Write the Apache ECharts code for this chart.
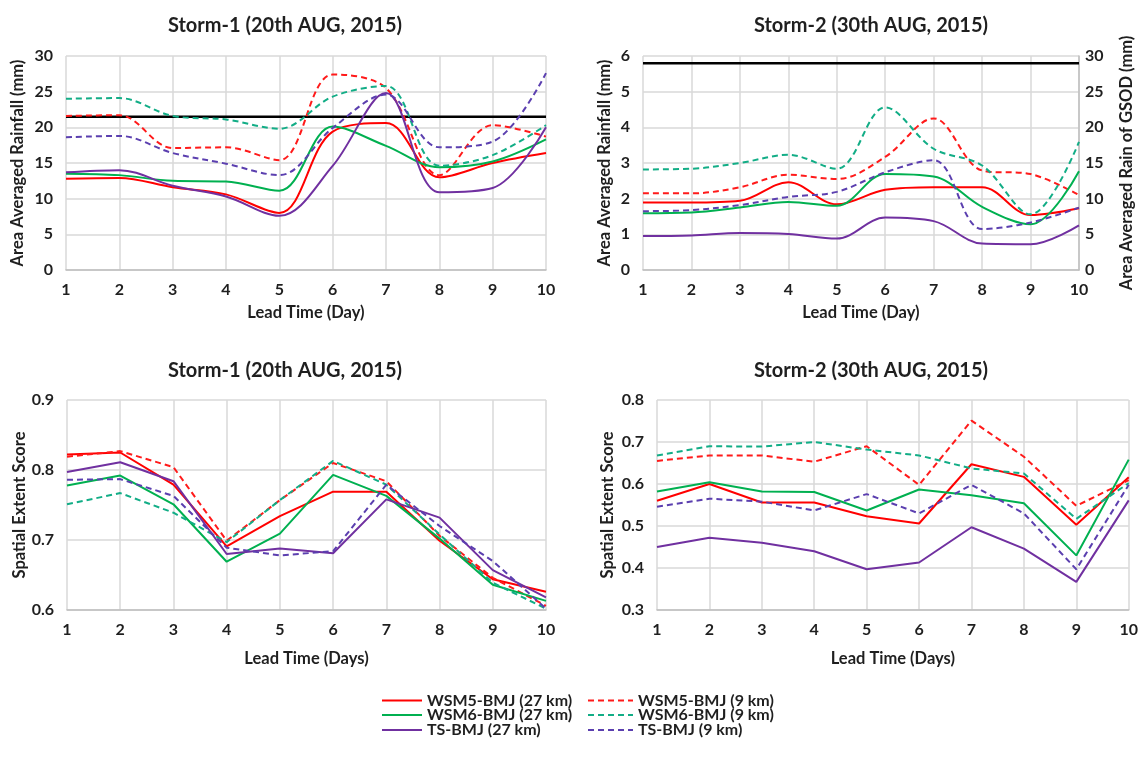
<!DOCTYPE html>
<html>
<head>
<meta charset="utf-8">
<script src="https://cdn.jsdelivr.net/npm/echarts@6/dist/echarts.min.js"></script>
<style>
html,body{margin:0;padding:0;background:#fff;}
#chart{width:1141px;height:757px;}
</style>
</head>
<body>
<div id="chart"></div>
<script>
// ---- Data ----
const days = [1, 2, 3, 4, 5, 6, 7, 8, 9, 10];
const seriesNames = ['WSM5-BMJ (27 km)', 'WSM5-BMJ (9 km)', 'WSM6-BMJ (27 km)', 'WSM6-BMJ (9 km)', 'TS-BMJ (27 km)', 'TS-BMJ (9 km)'];

// Storm-1 area averaged rainfall (mm)
const s1RainWSM5_27 = [12.8, 12.9, 11.6, 10.6, 8.0, 19.4, 20.6, 13.0, 15.0, 16.4];
const s1RainWSM5_9  = [21.6, 21.7, 17.1, 17.2, 15.4, 27.4, 25.5, 13.3, 20.3, 18.7];
const s1RainWSM6_27 = [13.5, 13.3, 12.5, 12.4, 11.1, 20.1, 17.4, 14.4, 15.2, 18.3];
const s1RainWSM6_9  = [24.0, 24.1, 21.6, 21.1, 19.8, 24.3, 25.8, 14.6, 16.1, 20.3];
const s1RainTS_27   = [13.7, 14.0, 11.8, 10.3, 7.6, 14.6, 24.8, 10.9, 11.5, 20.0];
const s1RainTS_9    = [18.6, 18.8, 16.4, 14.9, 13.3, 19.9, 24.6, 17.2, 18.0, 27.6];
const s1GSOD = [21.5, 21.5, 21.5, 21.5, 21.5, 21.5, 21.5, 21.5, 21.5, 21.5];

// Storm-2 area averaged rainfall (mm)
const s2RainWSM5_27 = [1.89, 1.89, 1.94, 2.46, 1.84, 2.25, 2.32, 2.32, 1.54, 1.73];
const s2RainWSM5_9  = [2.15, 2.15, 2.32, 2.67, 2.55, 3.17, 4.25, 2.79, 2.69, 2.10];
const s2RainWSM6_27 = [1.59, 1.61, 1.75, 1.91, 1.80, 2.69, 2.62, 1.77, 1.28, 2.77];
const s2RainWSM6_9  = [2.82, 2.84, 3.00, 3.23, 2.84, 4.56, 3.40, 2.93, 1.56, 3.59];
const s2RainTS_27   = [0.95, 0.97, 1.04, 1.01, 0.88, 1.47, 1.37, 0.74, 0.72, 1.25];
const s2RainTS_9    = [1.65, 1.68, 1.82, 2.05, 2.19, 2.74, 3.08, 1.15, 1.33, 1.75];
const s2GSOD = [29, 29, 29, 29, 29, 29, 29, 29, 29, 29]; // right axis

// Storm-1 spatial extent score
const s1SesWSM5_27 = [0.822, 0.825, 0.779, 0.691, 0.734, 0.769, 0.769, 0.699, 0.644, 0.626];
const s1SesWSM5_9  = [0.819, 0.827, 0.804, 0.699, 0.757, 0.810, 0.784, 0.706, 0.646, 0.606];
const s1SesWSM6_27 = [0.778, 0.792, 0.751, 0.669, 0.709, 0.793, 0.763, 0.702, 0.636, 0.613];
const s1SesWSM6_9  = [0.751, 0.767, 0.739, 0.697, 0.757, 0.813, 0.779, 0.708, 0.639, 0.602];
const s1SesTS_27   = [0.797, 0.811, 0.784, 0.680, 0.688, 0.681, 0.758, 0.732, 0.657, 0.618];
const s1SesTS_9    = [0.786, 0.787, 0.763, 0.689, 0.678, 0.684, 0.779, 0.720, 0.670, 0.602];

// Storm-2 spatial extent score
const s2SesWSM5_27 = [0.560, 0.600, 0.556, 0.556, 0.523, 0.506, 0.647, 0.617, 0.503, 0.616];
const s2SesWSM5_9  = [0.655, 0.668, 0.668, 0.653, 0.690, 0.598, 0.751, 0.665, 0.548, 0.609];
const s2SesWSM6_27 = [0.582, 0.604, 0.582, 0.581, 0.537, 0.587, 0.573, 0.554, 0.430, 0.658];
const s2SesWSM6_9  = [0.668, 0.690, 0.689, 0.700, 0.682, 0.668, 0.637, 0.625, 0.517, 0.602];
const s2SesTS_27   = [0.450, 0.472, 0.460, 0.440, 0.397, 0.413, 0.497, 0.446, 0.367, 0.561];
const s2SesTS_9    = [0.546, 0.565, 0.558, 0.537, 0.576, 0.530, 0.598, 0.530, 0.397, 0.598];

// ---- Styles ----
const FONT = 'Lato';
const TXT = '#1f1f1f';
const GRIDC = '#D9D9D9';
const styles = [
  {color: '#FF0000', type: 'solid'},
  {color: '#FF1A1A', type: [6, 4]},
  {color: '#00B050', type: 'solid'},
  {color: '#12AD86', type: [6, 4]},
  {color: '#7030A0', type: 'solid'},
  {color: '#5B3FAF', type: [6, 4]}
];

const groups = [
  {data: [s1RainWSM5_27, s1RainWSM5_9, s1RainWSM6_27, s1RainWSM6_9, s1RainTS_27, s1RainTS_9], x: 0, y: 0, smooth: true},
  {data: [s2RainWSM5_27, s2RainWSM5_9, s2RainWSM6_27, s2RainWSM6_9, s2RainTS_27, s2RainTS_9], x: 1, y: 1, smooth: true},
  {data: [s1SesWSM5_27, s1SesWSM5_9, s1SesWSM6_27, s1SesWSM6_9, s1SesTS_27, s1SesTS_9], x: 2, y: 3, smooth: false},
  {data: [s2SesWSM5_27, s2SesWSM5_9, s2SesWSM6_27, s2SesWSM6_9, s2SesTS_27, s2SesTS_9], x: 3, y: 4, smooth: false}
];

const pairs = arr => days.map((d, i) => [d, arr[i]]);

const series = [];
// GSOD reference lines
series.push({type: 'line', name: 'GSOD-1', data: pairs(s1GSOD), xAxisIndex: 0, yAxisIndex: 0, symbol: 'none',
  lineStyle: {color: '#000', width: 2.5}, silent: true, z: 1});
series.push({type: 'line', name: 'GSOD-2', data: pairs(s2GSOD), xAxisIndex: 1, yAxisIndex: 2, symbol: 'none',
  lineStyle: {color: '#000', width: 2.5}, silent: true, z: 1});
groups.forEach(g => {
  g.data.forEach((arr, k) => {
    series.push({
      type: 'line', name: seriesNames[k], data: pairs(arr),
      xAxisIndex: g.x, yAxisIndex: g.y, symbol: 'none',
      smooth: g.smooth ? 0.35 : false,
      itemStyle: {color: styles[k].color},
      lineStyle: {color: styles[k].color, width: 2, type: styles[k].type},
      emphasis: {disabled: true}, z: 2
    });
  });
});

const lbl = {fontFamily: FONT, fontWeight: 'bold', fontSize: 16, color: TXT};
const nameSty = {fontFamily: FONT, fontWeight: 'bold', fontSize: 16.5, color: TXT};

function xAxis(gi, name, gap) {
  return {type: 'value', gridIndex: gi, min: 1, max: 10, interval: 1,
    name: name, nameLocation: 'middle', nameGap: gap, nameTextStyle: nameSty,
    axisLine: {show: true, lineStyle: {color: '#BFBFBF', width: 1.5}},
    axisTick: {show: false},
    axisLabel: Object.assign({margin: 12}, lbl),
    splitLine: {show: true, lineStyle: {color: GRIDC, width: 1.5}}};
}
function yAxis(gi, min, max, interval, name, gap, pos, extra) {
  return Object.assign({type: 'value', gridIndex: gi, min: min, max: max, interval: interval,
    position: pos || 'left',
    name: name, nameLocation: 'middle', nameGap: gap, nameTextStyle: nameSty,
    axisLine: {show: false}, axisTick: {show: false},
    axisLabel: Object.assign({margin: 13}, lbl),
    splitLine: {show: true, lineStyle: {color: GRIDC, width: 1.5}}}, extra || {});
}

const titleSty = {fontFamily: FONT, fontWeight: 'bold', fontSize: 20, color: TXT};
const legText = {fontFamily: FONT, fontWeight: 'bold', fontSize: 16, color: TXT};

// legend: two columns x three rows, one legend component per entry
const legendCols = [376, 582];
const legendWidths = [40, 45];
const legendRowTops = [687.5, 702, 717];
const legends = seriesNames.map((nm, k) => ({
  left: legendCols[k % 2], top: legendRowTops[Math.floor(k / 2)],
  itemWidth: legendWidths[k % 2], itemHeight: 14,
  data: [nm], itemStyle: {opacity: 0}, textStyle: legText, selectedMode: false
}));

const option = {
  animation: false,
  backgroundColor: '#fff',
  title: [
    {text: 'Storm-1 (20th AUG, 2015)', left: 280, top: 11, textAlign: 'center', textStyle: titleSty},
    {text: 'Storm-2 (30th AUG, 2015)', left: 866, top: 11, textAlign: 'center', textStyle: titleSty},
    {text: 'Storm-1 (20th AUG, 2015)', left: 280, top: 356, textAlign: 'center', textStyle: titleSty},
    {text: 'Storm-2 (30th AUG, 2015)', left: 866, top: 356, textAlign: 'center', textStyle: titleSty}
  ],
  grid: [
    {left: 66, top: 56, width: 480, height: 214},
    {left: 643, top: 56, width: 436, height: 214},
    {left: 67, top: 400, width: 479, height: 210},
    {left: 657, top: 400, width: 474, height: 210}
  ],
  xAxis: [
    xAxis(0, 'Lead Time (Day)', 34),
    xAxis(1, 'Lead Time (Day)', 34),
    xAxis(2, 'Lead Time (Days)', 40),
    xAxis(3, 'Lead Time (Days)', 40)
  ],
  yAxis: [
    yAxis(0, 0, 30, 5, 'Area Averaged Rainfall (mm)', 40),
    yAxis(1, 0, 6, 1, 'Area Averaged Rainfall (mm)', 30),
    yAxis(1, 0, 30, 5, 'Area Averaged Rain of GSOD (mm)', 39, 'right',
      {splitLine: {show: false}, axisLabel: Object.assign({margin: 6}, lbl),
       axisLine: {show: true, lineStyle: {color: '#BFBFBF', width: 1.5}}}),
    yAxis(2, 0.6, 0.9, 0.1, 'Spatial Extent Score', 39),
    yAxis(3, 0.3, 0.8, 0.1, 'Spatial Extent Score', 41)
  ],
  legend: legends,
  series: series
};

const chart = echarts.init(document.getElementById('chart'), null, {renderer: 'canvas'});
chart.setOption(option);
</script>
</body>
</html>
